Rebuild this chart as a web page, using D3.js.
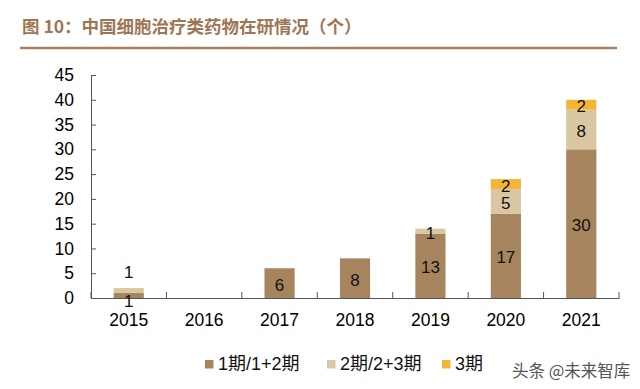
<!DOCTYPE html>
<html>
<head>
<meta charset="utf-8">
<script src="https://cdn.jsdelivr.net/npm/d3@7"></script>
<style>
  body { margin: 0; background: #fff; }
  svg { display: block; font-family: "Liberation Sans", Arial, "Noto Sans CJK SC", sans-serif; }
</style>
</head>
<body>
<div class="container"></div>
<script>
"use strict";

// data
const years = ["2015", "2016", "2017", "2018", "2019", "2020", "2021"];
const phase12 = [1, 0, 6, 8, 13, 17, 30];
const phase23 = [1, 0, 0, 0, 1, 5, 8];
const phase3 = [0, 0, 0, 0, 0, 2, 2];
const seriesNames = ["1期/1+2期", "2期/2+3期", "3期"];
const yTicks = [0, 5, 10, 15, 20, 25, 30, 35, 40, 45];

const makePlot = () => {
  const W = 640, H = 389;
  const colors = ["#A6845D", "#D8C7A1", "#F4B536"];
  const left = 91, right = 619, top = 75, bottom = 298;

  const svg = d3.select(".container").append("svg")
    .attr("width", W).attr("height", H);

  // title + rule
  svg.append("text")
    .attr("x", 22).attr("y", 33)
    .attr("fill", "#9E7655")
    .attr("font-size", 17.5)
    .attr("font-weight", "bold")
    .attr("font-family", "'Noto Sans CJK SC', sans-serif")
    .text("图 10：中国细胞治疗类药物在研情况（个）");

  svg.append("line")
    .attr("x1", 20).attr("x2", 617)
    .attr("y1", 48).attr("y2", 48)
    .attr("stroke", "#A88060").attr("stroke-width", 2.5);

  const x = d3.scaleBand().domain(years).range([left, right])
    .paddingInner(0.6).paddingOuter(0.3);
  const y = d3.scaleLinear().domain([0, 45]).range([bottom, top]);

  // stacked series
  const table = years.map((yr, i) => ({ year: yr, s0: phase12[i], s1: phase23[i], s2: phase3[i] }));
  const stack = d3.stack().keys(["s0", "s1", "s2"])(table);

  const layers = svg.append("g").selectAll("g")
    .data(stack).enter().append("g")
    .attr("fill", (d, i) => colors[i]);

  layers.selectAll("rect")
    .data(d => d)
    .enter().append("rect")
    .attr("x", d => x(d.data.year))
    .attr("width", x.bandwidth())
    .attr("y", d => y(d[1]))
    .attr("height", d => y(d[0]) - y(d[1]));

  // y axis
  const yAxis = d3.axisLeft(y).tickValues(yTicks).tickSizeInner(-5).tickSizeOuter(0).tickPadding(17);
  const gy = svg.append("g").attr("transform", `translate(${left},0)`).call(yAxis);
  gy.selectAll("text").attr("font-size", 17.5).attr("fill", "#000").attr("font-family", "'Liberation Sans', Arial, sans-serif");
  gy.selectAll("line, path").attr("stroke", "#555");

  // x axis
  const xAxis = d3.axisBottom(x).tickSize(0).tickPadding(16);
  const gx = svg.append("g").attr("transform", `translate(0,${bottom})`).call(xAxis);
  gx.select(".domain").attr("stroke", "#555");
  gx.selectAll("text").attr("font-size", 17.5).attr("fill", "#000").attr("font-family", "'Liberation Sans', Arial, sans-serif");
  // category boundary ticks, pointing up
  const edges = d3.range(years.length + 1).map(i => left + i * x.step());
  gx.selectAll(".edge").data(edges).enter().append("line")
    .attr("class", "edge")
    .attr("x1", d => d).attr("x2", d => d)
    .attr("y1", 0).attr("y2", -6)
    .attr("stroke", "#555");

  // value labels
  const labels = [];
  stack.forEach((layer, li) => {
    layer.forEach(d => {
      const v = d[1] - d[0];
      if (v <= 0) return;
      let cy = (y(d[0]) + y(d[1])) / 2 + 2;
      // tiny 2015 stack: top label sits above the bar, bottom one a bit low
      if (d.data.year === "2015") cy = li === 0 ? cy + 4 : y(d[1]) - 16;
      labels.push({ x: x(d.data.year) + x.bandwidth() / 2, y: cy, v: v });
    });
  });
  svg.append("g").selectAll("text").data(labels).enter().append("text")
    .attr("x", d => d.x).attr("y", d => d.y)
    .attr("text-anchor", "middle")
    .attr("dominant-baseline", "central")
    .attr("font-size", 17)
    .attr("fill", "#111")
    .text(d => d.v);

  // legend
  const legendX = [205, 327, 442];
  const lg = svg.append("g").selectAll("g").data(seriesNames).enter().append("g")
    .attr("transform", (d, i) => `translate(${legendX[i]},360)`);
  lg.append("rect").attr("width", 8.5).attr("height", 8.5).attr("fill", (d, i) => colors[i]);
  lg.append("text")
    .attr("x", 13).attr("y", 10)
    .attr("font-size", 18)
    .attr("fill", "#111")
    .text(d => d);

  // watermark
  svg.append("text")
    .attr("x", 512).attr("y", 377)
    .attr("font-size", 16.5)
    .attr("font-family", "'Noto Sans CJK SC', sans-serif")
    .attr("fill", "#555")
    .text("头条 @未来智库");
};

makePlot();
</script>
</body>
</html>
